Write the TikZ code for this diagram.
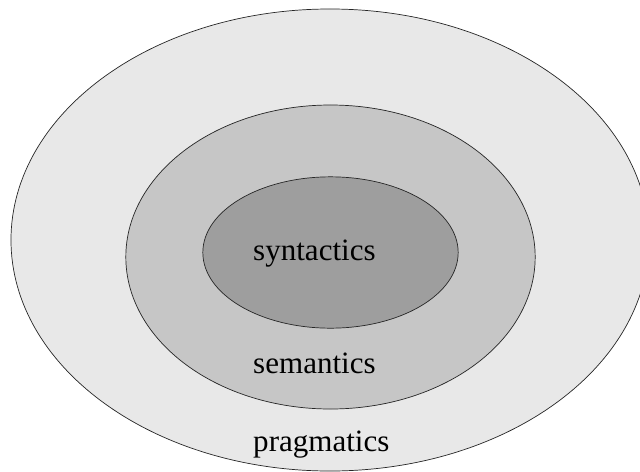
\documentclass[tikz,border=0pt]{standalone}
\usepackage{fontspec}
\setmainfont{Liberation Serif}
\usepackage{xcolor}
\usepackage{tikz}
\usetikzlibrary{positioning}

\begin{document}
\begin{tikzpicture}[x=0.03cm, y=-0.03cm]

% Define colors for each level
\definecolor{pragmatica}{RGB}{232,232,232}
\definecolor{semantica}{RGB}{198,198,198}
\definecolor{sintactica}{RGB}{158,158,158}

\tikzset{
  level/.style={draw=black!85, line width=0.6pt},
  label/.style={anchor=base west, inner sep=0pt, font=\fontsize{26.5}{30}\selectfont}
}

% Fix the picture size
\useasboundingbox (0,0) rectangle (640,471);

% Draw the nested ellipses
\filldraw[level, fill=pragmatica] (330,240) ellipse (9.57cm and 6.93cm);
\filldraw[level, fill=semantica] (330.5,257) ellipse (6.14cm and 4.56cm);
\filldraw[level, fill=sintactica] (330.5,252.5) ellipse (3.83cm and 2.27cm);

% Add labels for each level
\node[label] (syn) at (253,260) {syntactics};
\node[label] (sem) at (253,373) {semantics};
\node[label] (prag) at (253,451) {pragmatics};

\end{tikzpicture}
\end{document}
